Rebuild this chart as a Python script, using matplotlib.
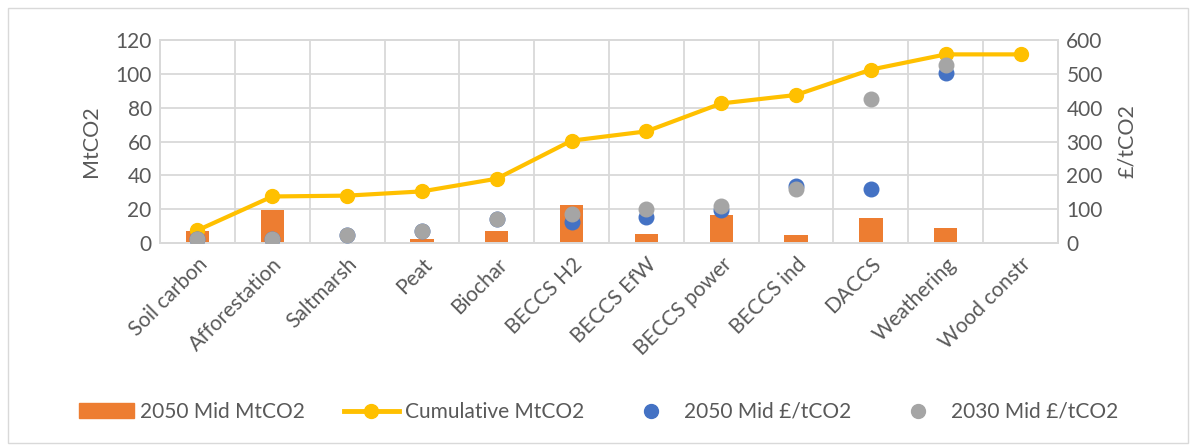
import numpy as np
import matplotlib.pyplot as plt
from matplotlib.patches import Rectangle
from matplotlib.lines import Line2D

plt.rcParams['font.family'] = ['Lato', 'DejaVu Sans']

categories = ["Soil carbon", "Afforestation", "Saltmarsh", "Peat", "Biochar",
              "BECCS H2", "BECCS EfW", "BECCS power", "BECCS ind", "DACCS",
              "Weathering", "Wood constr"]
mid_2050_mt = [7, 19.5, 0.3, 2.2, 7, 22.5, 5.5, 16.5, 5, 15, 8.7, 0]
cumulative_mt = [7.5, 27.5, 28, 30.5, 38, 60.5, 66, 82.5, 87.5, 102.5, 111.5, 111.5]
cost_2050 = [11, 11, 24, 36, 70, 63, 78, 98, 168, 160, 502, np.nan]
cost_2030 = [11, 11, 24, 36, 70, 85, 100, 110, 159, 425, 527, np.nan]

orange = "#ED7D31"
yellow = "#FFC000"
blue = "#4472C4"
grey = "#A5A5A5"
text_col = "#595959"
grid_col = "#D9D9D9"
fs = 15

fig = plt.figure(figsize=(11.98, 4.45), dpi=100)
ax = fig.add_axes([160 / 1198, 1 - 243 / 445, 898 / 1198, 203 / 445])
ax2 = ax.twinx()

x = np.arange(len(categories))

ax.bar(x, mid_2050_mt, width=0.31, color=orange, zorder=2)
ax.plot(x, cumulative_mt, color=yellow, lw=3, marker="o", ms=10, zorder=3)

ax2.scatter(x, cost_2050, s=110, color=blue, zorder=3)
ax2.scatter(x, cost_2030, s=110, color=grey, zorder=4)

ax.set_xlim(-0.5, len(categories) - 0.5)
ax.set_ylim(0, 120)
ax2.set_ylim(0, 600)
ax.set_yticks(range(0, 121, 20))
ax2.set_yticks(range(0, 601, 100))

# grid: horizontal at each tick, vertical between categories
ax.set_xticks(x)
ax.set_xticks(np.arange(-0.5, len(categories), 1), minor=True)
ax.grid(True, which="major", axis="y", color=grid_col, lw=1.3, zorder=0)
ax.grid(True, which="minor", axis="x", color=grid_col, lw=1.3, zorder=0)
ax.set_axisbelow(True)
ax.set_xticklabels(categories, rotation=45, ha="right", rotation_mode="anchor")

for a in (ax, ax2):
    for s in a.spines.values():
        s.set_color(grid_col)
        s.set_linewidth(1.3)
    a.tick_params(which="both", length=0, colors=text_col, labelsize=fs, pad=6)

ax.tick_params(axis="x", pad=8)
ax.set_ylabel("MtCO2", color=text_col, fontsize=fs + 0.5, labelpad=10)
ax2.set_ylabel("£/tCO2", color=text_col, fontsize=fs + 0.5, labelpad=10)

handles = [
    Rectangle((0, 0), 1, 1, color=orange),
    Line2D([], [], color=yellow, lw=3.5, marker="o", ms=10),
    Line2D([], [], color=blue, lw=0, marker="o", ms=10),
    Line2D([], [], color=grey, lw=0, marker="o", ms=10),
]
labels = ["2050 Mid MtCO2", "Cumulative MtCO2", "2050 Mid £/tCO2", "2030 Mid £/tCO2"]
fig.legend(handles, labels, loc="center", bbox_to_anchor=(0.5, 1 - 412 / 445),
           ncol=4, frameon=False, fontsize=fs, labelcolor=text_col,
           handlelength=2.6, handleheight=0.75, columnspacing=1.9, handletextpad=0.3)

# outer chart border
fig.patches.append(Rectangle((8 / 1198, 0.005), 1180 / 1198, 1 - 0.005 - 8 / 445,
                             transform=fig.transFigure, fill=False,
                             edgecolor=grid_col, lw=1))

fig.savefig("out.png", dpi=100)
